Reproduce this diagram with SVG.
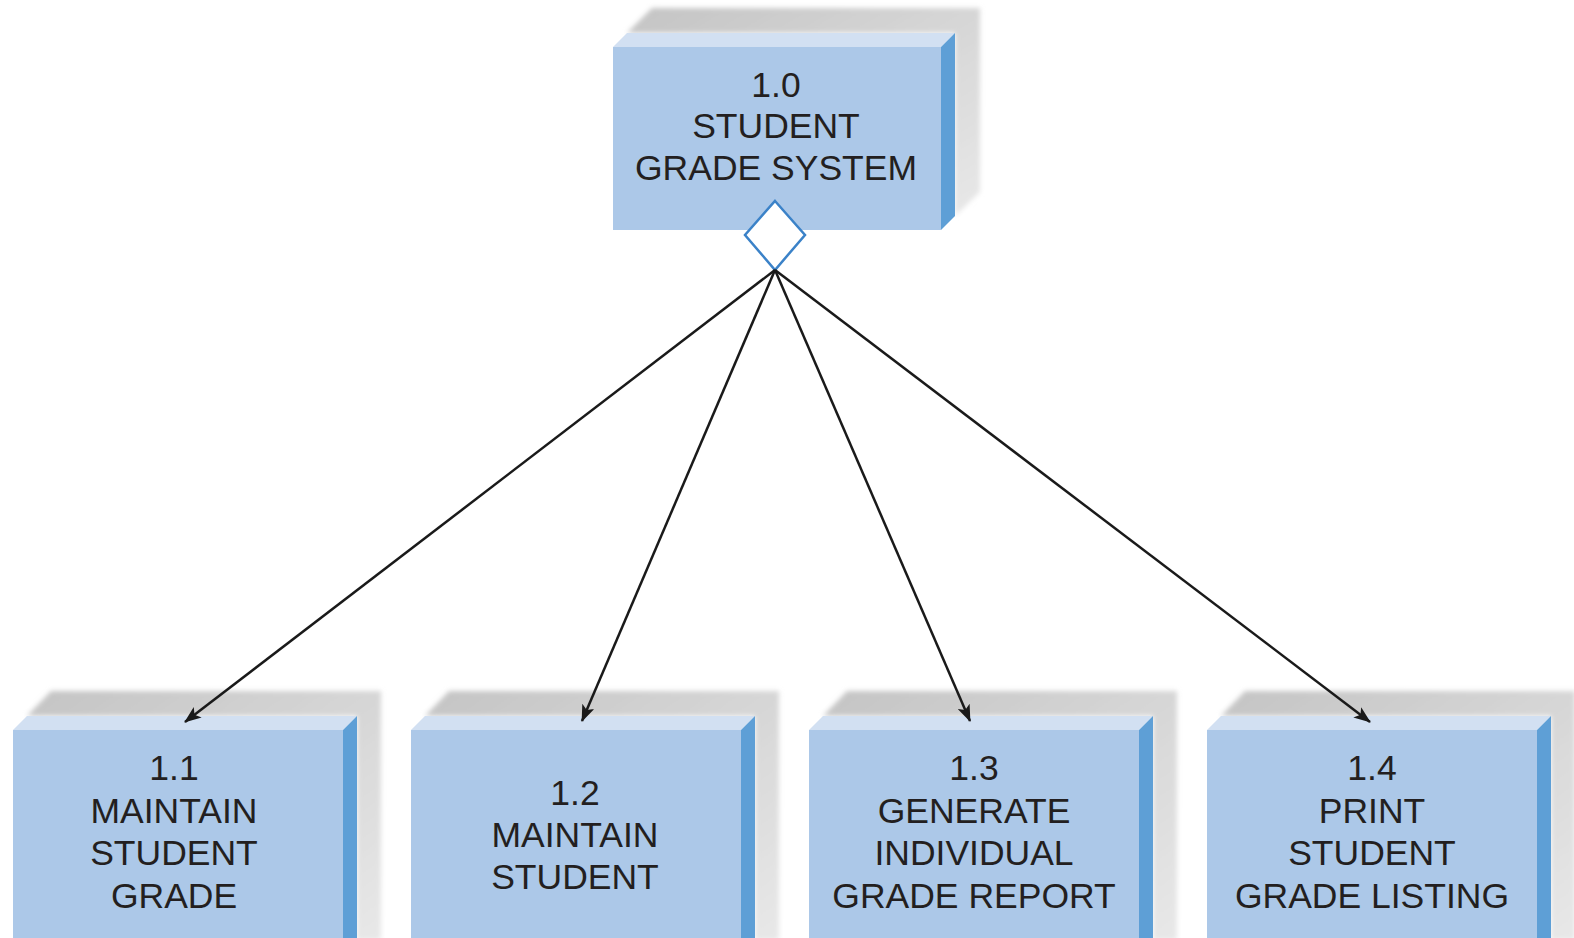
<svg xmlns="http://www.w3.org/2000/svg" width="1574" height="938" viewBox="0 0 1574 938">
<style>
.front{fill:#acc8e8}
.top{fill:#d2e0f2}
.side{fill:#5e9fd6}
.shadow{fill:url(#sg);filter:url(#blur)}
.lbl{font-family:"Liberation Sans",Arial,sans-serif;font-size:35.5px;fill:#231f20;text-anchor:middle}
.conn{stroke:#1a1a1a;stroke-width:2.5;fill:none;marker-end:url(#arr)}
</style>
<defs>
<linearGradient id="sg" x1="0" y1="0" x2="1" y2="1">
<stop offset="0" stop-color="#c4c4c4"/>
<stop offset="1" stop-color="#e8e8e8"/>
</linearGradient>
<filter id="blur" x="-10%" y="-10%" width="120%" height="120%">
<feGaussianBlur stdDeviation="2.5"/>
</filter>
<marker id="arr" viewBox="0 0 17 13" refX="16" refY="6.5" markerWidth="17" markerHeight="13" orient="auto" markerUnits="userSpaceOnUse">
<path d="M0,0 L17,6.5 L0,13 L4,6.5 Z" fill="#1a1a1a"/>
</marker>
</defs>
<rect width="1574" height="938" fill="#ffffff"/>

<g id="node-1-0">
<polygon class="shadow" points="627,33 652,8 980,8 980,192 955,216 955,33"/>
<rect class="front" x="613" y="47" width="328" height="183"/>
<polygon class="top" points="613,47 627,33 955,33 941,47"/>
<polygon class="side" points="941,47 955,33 955,216 941,230"/>
<text class="lbl" x="776" y="97">1.0</text>
<text class="lbl" x="776" y="138">STUDENT</text>
<text class="lbl" x="776" y="180">GRADE SYSTEM</text>
<polygon points="775,201 805,235 775,270 745,235" fill="#ffffff" stroke="#3b82c8" stroke-width="2.5"/>
</g>

<g id="node-1-1">
<polygon class="shadow" points="27,716 51,691 381,691 381,940 357,940 357,716"/>
<rect class="front" x="13" y="730" width="330" height="210"/>
<polygon class="top" points="13,730 27,716 357,716 343,730"/>
<polygon class="side" points="343,730 357,716 357,940 343,940"/>
<text class="lbl" x="174" y="780">1.1</text>
<text class="lbl" x="174" y="823">MAINTAIN</text>
<text class="lbl" x="174" y="865">STUDENT</text>
<text class="lbl" x="174" y="908">GRADE</text>
</g>

<g id="node-1-2">
<polygon class="shadow" points="425,716 449,691 779,691 779,940 755,940 755,716"/>
<rect class="front" x="411" y="730" width="330" height="210"/>
<polygon class="top" points="411,730 425,716 755,716 741,730"/>
<polygon class="side" points="741,730 755,716 755,940 741,940"/>
<text class="lbl" x="575" y="805">1.2</text>
<text class="lbl" x="575" y="847">MAINTAIN</text>
<text class="lbl" x="575" y="889">STUDENT</text>
</g>

<g id="node-1-3">
<polygon class="shadow" points="823,716 847,691 1177,691 1177,940 1153,940 1153,716"/>
<rect class="front" x="809" y="730" width="330" height="210"/>
<polygon class="top" points="809,730 823,716 1153,716 1139,730"/>
<polygon class="side" points="1139,730 1153,716 1153,940 1139,940"/>
<text class="lbl" x="974" y="780">1.3</text>
<text class="lbl" x="974" y="823">GENERATE</text>
<text class="lbl" x="974" y="865">INDIVIDUAL</text>
<text class="lbl" x="974" y="908">GRADE REPORT</text>
</g>

<g id="node-1-4">
<polygon class="shadow" points="1221,716 1245,691 1575,691 1575,940 1551,940 1551,716"/>
<rect class="front" x="1207" y="730" width="330" height="210"/>
<polygon class="top" points="1207,730 1221,716 1551,716 1537,730"/>
<polygon class="side" points="1537,730 1551,716 1551,940 1537,940"/>
<text class="lbl" x="1372" y="780">1.4</text>
<text class="lbl" x="1372" y="823">PRINT</text>
<text class="lbl" x="1372" y="865">STUDENT</text>
<text class="lbl" x="1372" y="908">GRADE LISTING</text>
</g>

<g id="connectors">
<line class="conn" x1="775" y1="270" x2="185" y2="722"/>
<line class="conn" x1="775" y1="270" x2="582" y2="721"/>
<line class="conn" x1="775" y1="270" x2="970" y2="721"/>
<line class="conn" x1="775" y1="270" x2="1370" y2="722"/>
</g>
</svg>
